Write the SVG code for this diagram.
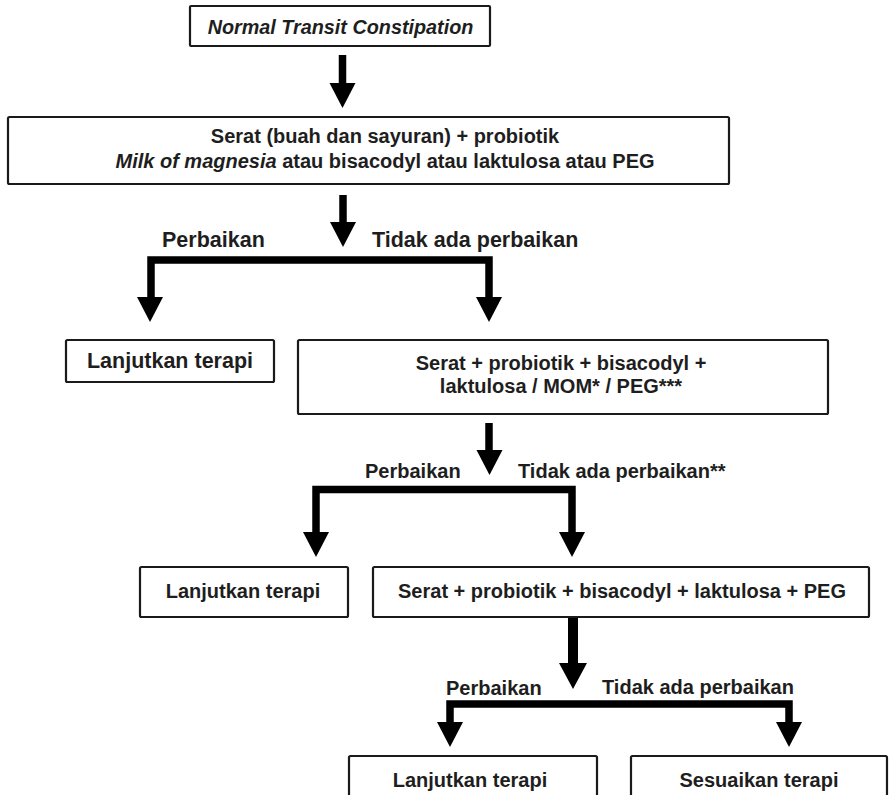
<svg xmlns="http://www.w3.org/2000/svg" width="890" height="795" viewBox="0 0 890 795">
<style>
.box{fill:#fff;stroke:#1a1a1a;stroke-width:2.2}
.t{font-family:"Liberation Sans",Arial,sans-serif;font-weight:bold;fill:#1e1e1e}
.c{text-anchor:middle}
.f20{font-size:20px}
.f21{font-size:21.5px}
.line{fill:none;stroke:#000;stroke-width:7.5;stroke-linejoin:miter}
.head{fill:#000}
</style>
<defs>
<path id="head" d="M-13,0 L13,0 L0,25 Z"/>
<path id="headw" d="M-14,0 L14,0 L0,26 Z"/>
</defs>
<rect width="890" height="795" fill="#fff"/>

<g id="connectors">
<path class="line" d="M342.5,55 V85"/>
<use href="#head" class="head" x="342.5" y="83"/>
<path class="line" d="M343,195 V224"/>
<use href="#head" class="head" x="343" y="222"/>
<path class="line" d="M151,300 V260 H489 V300"/>
<use href="#head" class="head" x="150" y="297"/>
<use href="#head" class="head" x="489" y="297"/>
<path class="line" d="M489,423 V452"/>
<use href="#head" class="head" x="489.5" y="450"/>
<path class="line" d="M316,535 V489.5 H572 V535"/>
<use href="#head" class="head" x="316" y="532"/>
<use href="#head" class="head" x="572" y="532"/>
<path class="line" d="M573,617 V665" style="stroke-width:10"/>
<use href="#headw" class="head" x="573" y="663"/>
<path class="line" d="M450,725 V704 H789 V725"/>
<use href="#head" class="head" x="450" y="722"/>
<use href="#head" class="head" x="789" y="722"/>
</g>

<g id="labels">
<text class="t f21" x="162" y="247">Perbaikan</text>
<text class="t f21" x="372" y="247">Tidak ada perbaikan</text>
<text class="t f20" x="365" y="478">Perbaikan</text>
<text class="t f20" x="518" y="478">Tidak ada perbaikan**</text>
<text class="t f20" x="446" y="695">Perbaikan</text>
<text class="t f20" x="602" y="694">Tidak ada perbaikan</text>
</g>

<g id="n1">
<rect class="box" x="190" y="6" width="300" height="40" rx="1"/>
<text class="t c" x="340.5" y="34" font-size="19.8" font-style="italic">Normal Transit Constipation</text>
</g>

<g id="n2">
<rect class="box" x="8" y="117" width="721" height="67" rx="1.5"/>
<text class="t c f20" x="385" y="143">Serat (buah dan sayuran) + probiotik</text>
<text class="t c f20" x="385" y="168"><tspan font-style="italic">Milk of magnesia</tspan> atau bisacodyl atau laktulosa atau PEG</text>
</g>

<g id="n3">
<rect class="box" x="66" y="340" width="208" height="42" rx="1.5"/>
<text class="t c f21" x="170" y="368">Lanjutkan terapi</text>
</g>

<g id="n4">
<rect class="box" x="298" y="340" width="530" height="74" rx="1.5"/>
<text class="t c f20" x="561" y="370">Serat + probiotik + bisacodyl +</text>
<text class="t c f20" x="561" y="393">laktulosa / MOM* / PEG***</text>
</g>

<g id="n5">
<rect class="box" x="140" y="567" width="208" height="50" rx="1.5"/>
<text class="t c f20" x="243" y="598">Lanjutkan terapi</text>
</g>

<g id="n6">
<rect class="box" x="373" y="567" width="496" height="50" rx="1.5"/>
<text class="t c f20" x="622" y="598">Serat + probiotik + bisacodyl + laktulosa + PEG</text>
</g>

<g id="n7">
<rect class="box" x="349" y="756" width="248" height="60" rx="1.5"/>
<text class="t c f20" x="470" y="787">Lanjutkan terapi</text>
</g>

<g id="n8">
<rect class="box" x="631" y="756" width="256" height="60" rx="1.5"/>
<text class="t c f20" x="759" y="787">Sesuaikan terapi</text>
</g>
</svg>
